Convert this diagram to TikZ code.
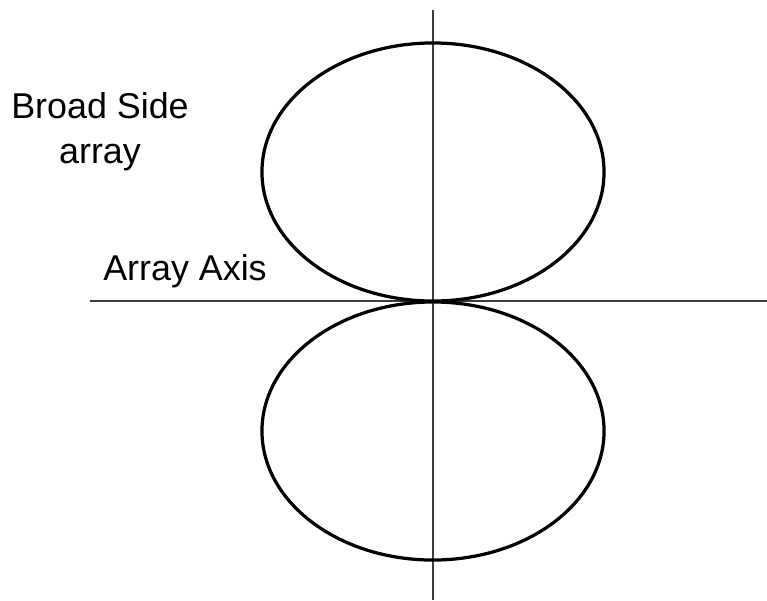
\documentclass[tikz,border=0pt]{standalone}
\usepackage{fontspec}
\setmainfont{Liberation Sans}
\usepackage{tikz}
\usetikzlibrary{shapes.geometric, positioning}
\definecolor{axisgray}{RGB}{60,60,60}

\begin{document}
\begin{tikzpicture}[
  x=0.025cm, y=-0.025cm,
  axisline/.style = {draw=axisgray, line width=1.4pt},
  lobe/.style     = {ellipse, draw=black, line width=2.3pt, inner sep=0pt,
                     minimum width=8.55cm, minimum height=6.45cm},
  label/.style    = {font=\fontsize{25.5}{32}\selectfont, inner sep=0pt,
                     align=center, anchor=base},
]
\useasboundingbox (0,0) rectangle (767,600);

%% --- Axes ---
\coordinate (top)    at (433,10);
\coordinate (bottom) at (433,600);
\coordinate (left)   at (90,301);
\coordinate (right)  at (767,301);
\draw[axisline] (top)  -- (bottom);
\draw[axisline] (left) -- (right);

%% --- Radiation lobes ---
\node[lobe] (upper) at (433,172) {};
\node[lobe] (lower) at (433,431) {};

%% --- Labels ---
\node[label] (broad) at (100,163) {Broad Side\\array};
\node[label] (axis)  at (185,280) {Array Axis};

\end{tikzpicture}
\end{document}
